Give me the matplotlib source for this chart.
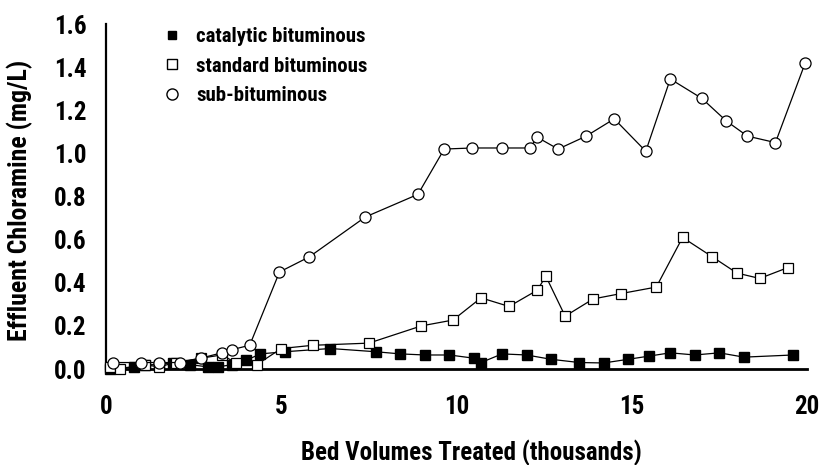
import matplotlib
matplotlib.use("Agg")
import matplotlib.pyplot as plt
import matplotlib.font_manager as fm

# ---- data ----
cat_x = [0.1, 0.8, 1.1, 1.5, 1.9, 2.4, 2.9, 3.2, 3.6, 4.0, 4.4, 5.1, 6.4, 7.7, 8.4,
         9.1, 9.8, 10.5, 10.7, 11.3, 12.0, 12.7, 13.5, 14.2, 14.9, 15.5, 16.1, 16.8,
         17.5, 18.2, 19.6]
cat_y = [0.0, 0.01, 0.02, 0.02, 0.03, 0.02, 0.01, 0.01, 0.02, 0.04, 0.07, 0.08, 0.095,
         0.08, 0.07, 0.065, 0.065, 0.05, 0.03, 0.07, 0.065, 0.045, 0.03, 0.028, 0.045,
         0.06, 0.075, 0.065, 0.075, 0.055, 0.065]

std_x = [0.1, 0.4, 1.1, 1.5, 2.0, 2.7, 3.3, 3.7, 4.3, 5.0, 5.9, 7.5, 9.0, 9.9, 10.7,
         11.5, 12.3, 12.55, 13.1, 13.9, 14.7, 15.7, 16.45, 17.3, 18.0, 18.65, 19.45]
std_y = [0.01, 0.0, 0.02, 0.01, 0.03, 0.05, 0.065, 0.03, 0.02, 0.095, 0.11, 0.12, 0.2,
         0.227, 0.33, 0.29, 0.365, 0.43, 0.245, 0.325, 0.35, 0.38, 0.61, 0.52, 0.445,
         0.42, 0.47]

sub_x = [0.2, 1.0, 1.5, 2.1, 2.7, 3.3, 3.6, 4.1, 4.95, 5.8, 7.4, 8.9, 9.65, 10.45,
         11.3, 12.1, 12.3, 12.9, 13.7, 14.5, 15.4, 16.1, 17.0, 17.7, 18.3, 19.1, 19.95]
sub_y = [0.03, 0.03, 0.03, 0.03, 0.05, 0.075, 0.09, 0.11, 0.45, 0.52, 0.705, 0.81, 1.02,
         1.025, 1.025, 1.025, 1.075, 1.02, 1.08, 1.16, 1.01, 1.345, 1.255, 1.15, 1.08,
         1.05, 1.42]

series_labels = ["catalytic bituminous", "standard bituminous", "sub-bituminous"]
x_ticks = [0, 5, 10, 15, 20]
y_ticks = [0.0, 0.2, 0.4, 0.6, 0.8, 1.0, 1.2, 1.4, 1.6]
x_label = "Bed Volumes Treated (thousands)"
y_label = "Effluent Chloramine (mg/L)"

# ---- font ----
names = {f.name for f in fm.fontManager.ttflist}
family = "DejaVu Sans"
stretch = "normal"
for cand in ["Roboto Condensed", "Liberation Sans Narrow", "Open Sans Condensed",
             "DejaVu Sans Condensed"]:
    if cand in names:
        family = cand
        break
else:
    if any(f.name == "DejaVu Sans" and f.stretch == "condensed" for f in fm.fontManager.ttflist):
        stretch = "condensed"
plt.rcParams["font.family"] = [family, "DejaVu Sans"]
plt.rcParams["font.stretch"] = stretch
plt.rcParams["font.weight"] = "bold"
plt.rcParams["axes.labelweight"] = "bold"

fig = plt.figure(figsize=(8.21, 4.65), dpi=100)
ax = fig.add_axes([106 / 821, (465 - 369) / 465, (807 - 106) / 821, (369 - 24) / 465])

ax.plot(cat_x, cat_y, color="black", lw=0.9, marker="s", ms=6.5, mfc="black",
        mec="black", clip_on=False, zorder=3, label=series_labels[0])
ax.plot(std_x, std_y, color="black", lw=0.9, marker="s", ms=7, mfc="white",
        mec="black", mew=0.9, clip_on=False, zorder=4, label=series_labels[1])
ax.plot(sub_x, sub_y, color="black", lw=0.9, marker="o", ms=8, mfc="white",
        mec="black", mew=0.9, clip_on=False, zorder=5, label=series_labels[2])

ax.set_xlim(0, 20)
ax.set_ylim(0, 1.6)
ax.set_xticks(x_ticks)
ax.set_xticklabels([str(v) for v in x_ticks])
ax.set_yticks(y_ticks)
ax.set_yticklabels([f"{v:.1f}" for v in y_ticks])
ax.tick_params(axis="both", length=0, labelsize=18)
ax.tick_params(axis="y", pad=14)
ax.tick_params(axis="x", pad=19)

for s in ["top", "right"]:
    ax.spines[s].set_visible(False)
ax.spines["left"].set_linewidth(1.6)
ax.spines["bottom"].set_linewidth(2.0)

ax.set_xlabel(x_label, fontsize=18, fontweight="bold")
ax.set_ylabel(y_label, fontsize=18.5, fontweight="bold")
ax.xaxis.set_label_coords((471 - 106) / 701, (369 - 440) / 345)
ax.yaxis.set_label_coords((33 - 106) / 701, 0.49)

# legend without line
handles = [plt.Line2D([], [], ls="none", marker="s", ms=6, mfc="black", mec="black"),
           plt.Line2D([], [], ls="none", marker="s", ms=7, mfc="white", mec="black"),
           plt.Line2D([], [], ls="none", marker="o", ms=8, mfc="white", mec="black")]
ax.legend(handles, series_labels, loc="upper left", bbox_to_anchor=(0.05, 1.045),
          frameon=False, fontsize=15, handletextpad=0.55, labelspacing=0.5,
          handlelength=1.2)

fig.savefig("out.png", dpi=100)
